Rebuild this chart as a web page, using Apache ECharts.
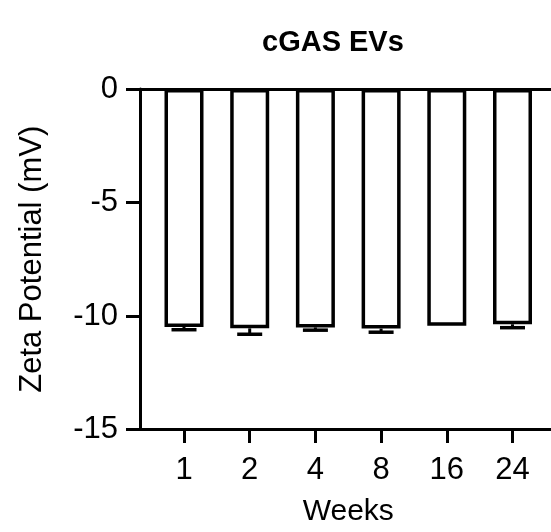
<!DOCTYPE html>
<html>
<head>
<meta charset="utf-8">
<script src="https://cdn.jsdelivr.net/npm/echarts@6/dist/echarts.min.js"></script>
<style>html,body{margin:0;padding:0;background:#fff}#c{width:551px;height:532px}</style>
</head>
<body>
<div id="c"></div>
<script>
const titleText = 'cGAS EVs';
const categories = ['1', '2', '4', '8', '16', '24'];
const means = [-10.5, -10.56, -10.52, -10.57, -10.45, -10.38];
const errors = [0.12, 0.26, 0.12, 0.16, 0.0, 0.15];
const yTicks = [0, -5, -10, -15];
const xName = 'Weeks';
const yName = 'Zeta Potential (mV)';

const FONT = 'Liberation Sans, Arial, Helvetica, sans-serif';
const chart = echarts.init(document.getElementById('c'), null, {renderer: 'canvas'});
const gridTop = 89, gridBottom = 102.5;

chart.setOption({
  animation: false,
  backgroundColor: '#fff',
  title: {
    text: titleText, left: 257, top: 23,
    textStyle: {fontFamily: FONT, fontSize: 29, fontWeight: 'bold', color: '#000'}
  },
  grid: [
    {left: 140, right: 0, top: gridTop, bottom: gridBottom},
    {left: 151.15, right: 5.65, top: gridTop, bottom: gridBottom}
  ],
  xAxis: [
    {gridIndex: 0, type: 'value', position: 'bottom', min: 0, max: 1,
      axisLine: {show: true, onZero: false, lineStyle: {color: '#000', width: 3}},
      axisTick: {show: false}, axisLabel: {show: false}, splitLine: {show: false}},
    {gridIndex: 0, type: 'value', position: 'top', min: 0, max: 1,
      axisLine: {show: true, onZero: false, lineStyle: {color: '#000', width: 3}},
      axisTick: {show: false}, axisLabel: {show: false}, splitLine: {show: false}},
    {gridIndex: 1, type: 'category', data: categories, position: 'bottom',
      axisLine: {show: false, onZero: false},
      axisTick: {show: true, alignWithLabel: true, length: 14, lineStyle: {color: '#000', width: 3}},
      axisLabel: {fontFamily: FONT, fontSize: 31, color: '#000', margin: 26},
      name: xName, nameLocation: 'middle', nameGap: 68,
      nameTextStyle: {fontFamily: FONT, fontSize: 30, color: '#000'}}
  ],
  yAxis: [
    {gridIndex: 0, type: 'value', min: yTicks[yTicks.length - 1], max: yTicks[0], interval: 5,
      axisLine: {show: true, lineStyle: {color: '#000', width: 3}},
      axisTick: {show: true, length: 14, lineStyle: {color: '#000', width: 3}},
      axisLabel: {fontFamily: FONT, fontSize: 31, color: '#000', margin: 22},
      splitLine: {show: false},
      name: yName, nameLocation: 'middle', nameGap: 92, nameRotate: 90,
      nameTextStyle: {fontFamily: FONT, fontSize: 31, color: '#000'}},
    {gridIndex: 1, type: 'value', min: yTicks[yTicks.length - 1], max: yTicks[0], interval: 5,
      show: false}
  ],
  series: [
    {type: 'bar', xAxisIndex: 2, yAxisIndex: 1, data: means, barWidth: 39,
      itemStyle: {color: '#fff', borderColor: '#000', borderWidth: 3.5}},
    {type: 'custom', xAxisIndex: 2, yAxisIndex: 1,
      data: means.map((m, i) => [i, m, errors[i]]),
      z: 3,
      renderItem: function (params, api) {
        const i = api.value(0), m = api.value(1), e = api.value(2);
        if (!e) return null;
        const p0 = api.coord([i, m]);
        const p1 = api.coord([i, m - e]);
        const hw = 12.5;
        return {type: 'group', children: [
          {type: 'line', shape: {x1: p0[0], y1: p0[1], x2: p1[0], y2: p1[1]}, style: {stroke: '#000', lineWidth: 3}},
          {type: 'line', shape: {x1: p1[0] - hw, y1: p1[1], x2: p1[0] + hw, y2: p1[1]}, style: {stroke: '#000', lineWidth: 3.5}}
        ]};
      }}
  ]
});
</script>
</body>
</html>
